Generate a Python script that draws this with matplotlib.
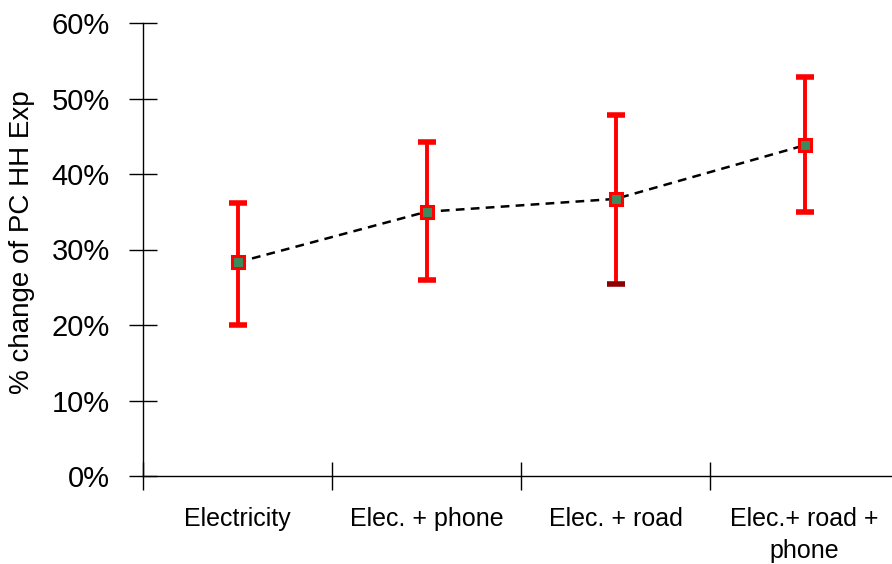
import matplotlib
matplotlib.use("Agg")
import matplotlib.pyplot as plt
import numpy as np

categories = ["Electricity", "Elec. + phone", "Elec. + road", "Elec.+ road +\nphone"]
mean_vals = [28.3, 35.0, 36.7, 43.8]
upper_vals = [36.2, 44.2, 47.8, 52.8]
lower_vals = [20.0, 26.0, 25.4, 35.0]
lower_cap_colors = ["#ff0000", "#ff0000", "#8b0000", "#ff0000"]
yticks = [0, 10, 20, 30, 40, 50, 60]

plt.rcParams['font.family'] = ['Liberation Sans', 'DejaVu Sans']

fig = plt.figure(figsize=(8.92, 5.64), dpi=100)
ax = fig.add_axes([143/892, 1-476/564, (899-143)/892, (476-23)/564])

x = np.arange(1, len(categories) + 1)
m = np.array(mean_vals)
up = np.array(upper_vals)
lo = np.array(lower_vals)

ax.plot(x, m, linestyle=(0, (3.5, 2.5)), color="black", linewidth=1.8, zorder=2)
for i in range(len(x)):
    ax.plot([x[i], x[i]], [lo[i], up[i]], color="#ff0000", linewidth=2.8, zorder=3, solid_capstyle="butt")
    ax.plot([x[i]], [up[i]], marker="_", markersize=13, markeredgewidth=4, color="#ff0000", zorder=3)
    ax.plot([x[i]], [lo[i]], marker="_", markersize=13, markeredgewidth=4, color=lower_cap_colors[i], zorder=3)
ax.plot(x, m, linestyle="none", marker="s", markersize=8, markerfacecolor="#3a8c5c",
        markeredgecolor="#ff0000", markeredgewidth=2.2, zorder=4)

ax.set_xlim(0.5, 4.5)
ax.set_ylim(0, 60)
ax.set_yticks(yticks)
ax.set_yticklabels([f"{v}%" for v in yticks], fontsize=21)
ax.set_xticks(x - 0.5)
ax.set_xticklabels([])
ax.set_xticks(x, minor=True)
ax.set_xticklabels(categories, minor=True, fontsize=18, linespacing=1.45)
ax.tick_params(axis="x", which="minor", length=0, pad=22)
ax.tick_params(axis="both", which="major", direction="inout", length=20, width=1, color="black")
ax.tick_params(axis="y", pad=14)

for s in ["top", "right"]:
    ax.spines[s].set_visible(False)
ax.spines["left"].set_linewidth(1)
ax.spines["bottom"].set_linewidth(1)

fig.text(22/892, 1-242/564, "% change of PC HH Exp", rotation=90, fontsize=20,
         ha="center", va="center")

fig.savefig("out.png", dpi=100)
